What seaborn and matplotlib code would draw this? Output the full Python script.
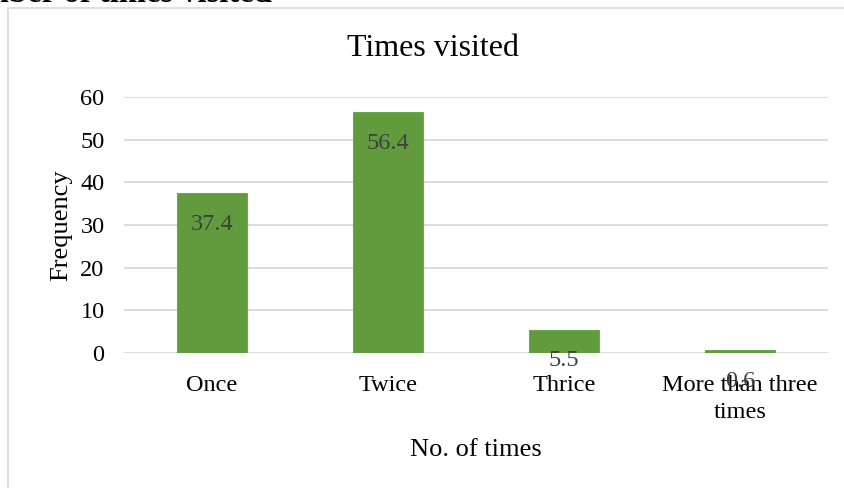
import matplotlib
matplotlib.use("Agg")
import matplotlib.pyplot as plt
import seaborn as sns
import pandas as pd
from matplotlib.patches import Rectangle

categories = ["Once", "Twice", "Thrice", "More than three\ntimes"]
values = [37.4, 56.4, 5.5, 0.6]
yticks = [0, 10, 20, 30, 40, 50, 60]

sns.set_theme(style="white")
plt.rcParams['font.family'] = ['Liberation Serif', 'DejaVu Serif']

W, H = 845, 488
fig = plt.figure(figsize=(W / 100, H / 100), dpi=100)
fig.patch.set_facecolor("white")

# outer chart frame
fig.patches.append(Rectangle((8 / W, -0.1), 1.2, 1 - 8 / H + 0.1, transform=fig.transFigure,
                             fill=False, edgecolor="#d9d9d9", linewidth=1.2))
# clipped heading at top
fig.text(272 / W, 1 - 1.5 / H, "Number of times visited", ha="right", va="baseline",
         fontsize=23.5, fontweight="bold", color="black")

ax = fig.add_axes([124 / W, 1 - 353 / H, (828 - 124) / W, (353 - 97) / H])
df = pd.DataFrame({"cat": categories, "val": values})
sns.barplot(data=df, x="cat", y="val", ax=ax, width=0.4, color="#629b3e",
            saturation=1, edgecolor="#6fa84a", linewidth=0.8, zorder=3)

ax.set_xlim(-0.5, 3.5)
ax.set_ylim(0, 60)
ax.set_yticks(yticks)
ax.yaxis.grid(True, color="#d9d9d9", linewidth=1.3, zorder=0)
ax.set_axisbelow(True)
for s in ax.spines.values():
    s.set_visible(False)
ax.tick_params(axis="both", length=0, labelsize=17.5, colors="black")
ax.tick_params(axis="y", pad=14)
ax.tick_params(axis="x", pad=15.5)
for lab in ax.get_xticklabels():
    lab.set_linespacing(1.4)

for i, v in enumerate(values):
    ax.annotate(f"{v}", (i, v), xytext=(0, -22.5), textcoords="offset points",
                ha="center", va="center", fontsize=17.5, color="#404040", zorder=5)

ax.set_xlabel("No. of times", fontsize=19, color="black")
ax.xaxis.set_label_coords(0.5, -(439 - 353) / 256)
ax.set_ylabel("Frequency", fontsize=19, color="black")
ax.yaxis.set_label_coords(-(124 - 72) / 704, 0.5)

fig.text(433 / W, 1 - 48 / H, "Times visited", ha="center", va="center",
         fontsize=23, color="black")

fig.savefig("out.png", dpi=100)
